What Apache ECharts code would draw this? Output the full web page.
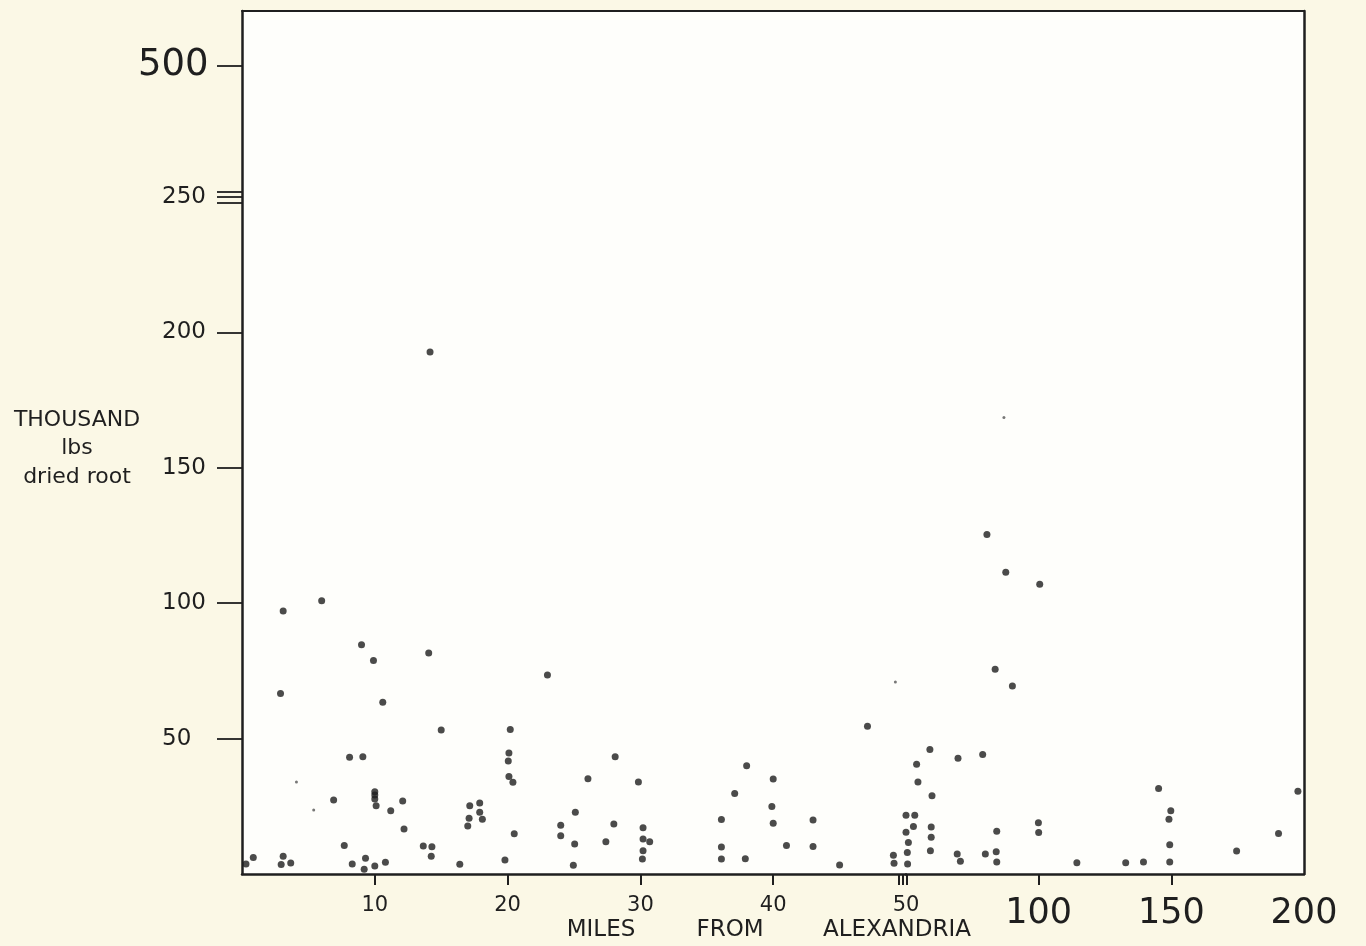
<!DOCTYPE html>
<html>
<head>
<meta charset="utf-8">
<title>Dried root by distance from Alexandria</title>
<script src="https://cdn.jsdelivr.net/npm/echarts@6/dist/echarts.min.js"></script>
<style>
  html, body { margin: 0; padding: 0; background: #fbf8e6; }
  #chart { width: 1366px; height: 946px; }
</style>
</head>
<body>
<div id="chart"></div>
<script>
// miles from Alexandria / thousand lbs dried root
const miles = [
  0.3, 0.85, 3.1, 2.95, 3.67, 3.1, 2.9, 6.0, 9.0, 9.9,
  10.6, 14.06, 14.16, 15.0, 8.1, 9.1, 6.9, 10.0, 10.0, 10.0,
  10.1, 12.1, 11.2, 12.2, 7.7, 8.3, 9.3, 9.2, 10.0, 10.8,
  13.65, 14.3, 14.25, 16.4, 17.0, 17.1, 17.15, 17.9, 17.9, 18.1,
  20.2, 20.1, 20.05, 20.1, 20.4, 20.5, 19.8, 23.0, 24.0, 24.0,
  25.1, 25.05, 24.95, 26.05, 28.1, 28.0, 27.4, 29.85, 30.2, 30.2,
  30.7, 30.2, 30.15, 36.1, 36.1, 36.1, 37.1, 38.0, 37.9, 40.0,
  39.9, 40.0, 41.0, 43.0, 43.0, 45.0, 47.1, 49.05, 49.1, 50.0,
  53.3, 52.8, 50.0, 50.9, 50.5, 50.6, 54.0, 54.5, 59.0, 59.8,
  59.5, 59.5, 59.2, 69.6, 69.3, 70.5, 78.9, 79.9, 84.2, 84.0,
  84.2, 90.1, 83.6, 80.5, 87.6, 100.4, 99.9, 100.0, 114.4, 132.8,
  139.5, 145.2, 149.8, 149.1, 149.4, 149.4, 174.6, 190.4, 197.7
];
const lbs = [
  3.7, 6.1, 6.6, 3.5, 4.1, 97.1, 66.7, 100.9, 84.7, 78.8,
  63.4, 81.6, 192.8, 53.2, 43.1, 43.3, 27.3, 30.4, 29.2, 27.7,
  25.2, 27.0, 23.4, 16.6, 10.5, 3.7, 5.8, 1.8, 3.0, 4.3,
  10.3, 10.1, 6.6, 3.6, 17.7, 20.6, 25.2, 26.2, 22.8, 20.2,
  53.4, 44.7, 41.7, 36.0, 33.9, 14.9, 5.2, 73.5, 18.0, 14.1,
  22.8, 11.1, 3.2, 35.2, 43.3, 18.5, 11.9, 34.0, 17.1, 12.9,
  11.9, 8.6, 5.5, 20.1, 10.0, 5.5, 29.7, 40.0, 5.6, 35.1,
  24.9, 18.7, 10.5, 19.9, 10.2, 3.3, 54.6, 6.9, 4.0, 21.7,
  21.7, 17.5, 15.4, 11.6, 7.9, 3.7, 40.5, 34.0, 46.0, 28.9,
  17.4, 13.6, 8.6, 42.7, 7.4, 4.7, 44.1, 7.4, 15.8, 8.2,
  4.4, 69.4, 75.6, 125.4, 111.4, 107.0, 18.9, 15.3, 4.2, 4.2,
  4.4, 31.6, 23.4, 20.2, 10.8, 4.4, 8.5, 15.0, 30.6
];
// faint specks on the sheet
const faintMiles = [4.1, 5.4, 49.2, 86.9];
const faintLbs = [34.0, 23.6, 70.9, 168.6];

const nearTicks = [10, 20, 30, 40];
const farTicks = [50, 100, 150, 200];
const yTicks = [50, 100, 150, 200, 250, 500];

// y axis is broken above 250
const yTop = 318.7;
const yPos = v => v <= 250 ? v : 250 + (v - 250) * 0.194;

const ink = '#1f1f1f';
const font = 'DejaVu Sans';

function pairs(xs, ys, test) {
  const out = [];
  xs.forEach((x, i) => { if (test(x)) out.push([x, ys[i]]); });
  return out;
}

const chart = echarts.init(document.getElementById('chart'));
chart.setOption({
  backgroundColor: '#fbf8e6',
  animation: false,
  textStyle: { fontFamily: font, color: ink },
  title: {
    text: '{a|THOUSAND}\n{b|lbs}\n{b|dried root}',
    left: 77,
    top: 406,
    padding: 0,
    textAlign: 'center',
    textStyle: {
      fontWeight: 'normal',
      rich: {
        a: { fontFamily: font, fontSize: 22, fontWeight: 'normal', lineHeight: 28, color: ink },
        b: { fontFamily: font, fontSize: 22, fontWeight: 'normal', lineHeight: 29, color: ink }
      }
    }
  },
  grid: [
    { left: 242, top: 11, width: 664, height: 863, show: true, backgroundColor: '#fefefb', borderWidth: 0, outerBoundsMode: 'none' },
    { left: 906, top: 11, width: 398, height: 863, show: true, backgroundColor: '#fefefb', borderWidth: 0, outerBoundsMode: 'none' }
  ],
  xAxis: [
    {
      gridIndex: 0, type: 'value', min: 0, max: 50,
      axisLine: { show: true, lineStyle: { color: ink, width: 2.5 } },
      axisTick: { show: true, length: 11, customValues: nearTicks.concat([49.47, 49.77]), lineStyle: { color: ink, width: 2 } },
      axisLabel: {
        customValues: nearTicks, margin: 22,
        formatter: v => '{s|' + v + '}',
        rich: { s: { fontFamily: font, fontSize: 21, lineHeight: 20, color: ink } }
      },
      splitLine: { show: false }
    },
    {
      gridIndex: 1, type: 'value', min: 50, max: 200,
      axisLine: { show: true, lineStyle: { color: ink, width: 2.5 } },
      axisTick: { show: true, length: 11, customValues: [50.38, 100, 150], lineStyle: { color: ink, width: 2 } },
      axisLabel: {
        customValues: farTicks, margin: 22,
        formatter: v => v === 50 ? '{s|50}' : '{b|' + v + '}',
        rich: {
          s: { fontFamily: font, fontSize: 21, lineHeight: 20, color: ink },
          b: { fontFamily: font, fontSize: 35, lineHeight: 36, color: ink }
        }
      },
      splitLine: { show: false }
    },
    {
      gridIndex: 0, type: 'value', min: 0, max: 50, position: 'top',
      axisLine: { show: true, lineStyle: { color: ink, width: 2 } },
      axisTick: { show: false }, axisLabel: { show: false }, splitLine: { show: false }
    },
    {
      gridIndex: 1, type: 'value', min: 50, max: 200, position: 'top',
      axisLine: { show: true, lineStyle: { color: ink, width: 2 } },
      axisTick: { show: false }, axisLabel: { show: false }, splitLine: { show: false }
    }
  ],
  yAxis: [
    {
      gridIndex: 0, type: 'value', min: 0, max: yTop,
      axisLine: { show: true, lineStyle: { color: ink, width: 2.5 } },
      axisTick: {
        show: true, length: 25,
        customValues: [50, 100, 150, 200, 247.9, 250, 252, yPos(500)],
        lineStyle: { color: ink, width: 1.8 }
      },
      axisLabel: {
        customValues: yTicks.map(yPos),
        align: 'left', margin: 104,
        formatter: v => v > 250 ? '{b|500}' : '{n|' + Math.round(v) + '}',
        rich: {
          n: { fontFamily: font, fontSize: 23, color: ink, padding: [0, 0, 0, 24] },
          b: { fontFamily: font, fontSize: 37, color: ink }
        }
      },
      splitLine: { show: false }
    },
    {
      gridIndex: 1, type: 'value', min: 0, max: yTop, position: 'right',
      axisLine: { show: true, lineStyle: { color: ink, width: 2.5 } },
      axisTick: { show: false }, axisLabel: { show: false }, splitLine: { show: false }
    }
  ],
  graphic: [
    { type: 'text', x: 601, y: 930, style: { text: 'MILES', font: '23px "DejaVu Sans"', fill: ink, align: 'center', verticalAlign: 'middle' } },
    { type: 'text', x: 730, y: 930, style: { text: 'FROM', font: '23px "DejaVu Sans"', fill: ink, align: 'center', verticalAlign: 'middle' } },
    { type: 'text', x: 897, y: 930, style: { text: 'ALEXANDRIA', font: '23px "DejaVu Sans"', fill: ink, align: 'center', verticalAlign: 'middle' } }
  ],
  series: [
    {
      type: 'scatter', xAxisIndex: 0, yAxisIndex: 0, symbolSize: 7,
      itemStyle: { color: '#1e1e1e' },
      data: pairs(miles, lbs, x => x <= 50)
    },
    {
      type: 'scatter', xAxisIndex: 1, yAxisIndex: 1, symbolSize: 7,
      itemStyle: { color: '#1e1e1e' },
      data: pairs(miles, lbs, x => x > 50)
    },
    {
      type: 'scatter', xAxisIndex: 0, yAxisIndex: 0, symbolSize: 3,
      itemStyle: { color: '#555' },
      data: pairs(faintMiles, faintLbs, x => x <= 50)
    },
    {
      type: 'scatter', xAxisIndex: 1, yAxisIndex: 1, symbolSize: 3,
      itemStyle: { color: '#555' },
      data: pairs(faintMiles, faintLbs, x => x > 50)
    }
  ]
});
</script>
</body>
</html>
